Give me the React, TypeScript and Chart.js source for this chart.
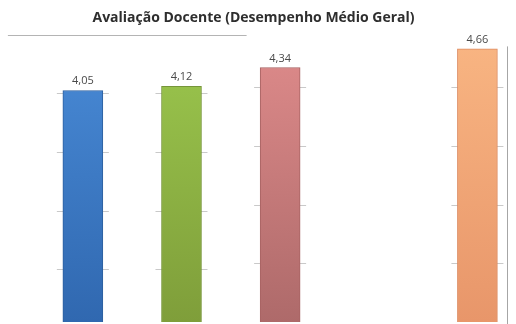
import { useEffect, useRef } from 'react';
import { Chart, registerables } from 'chart.js';

Chart.register(...registerables);

// Column slots on the x axis (slot 4 is left empty) and the average score of each column
const slots = [1, 2, 3, 5];
const averages = [4.05, 4.12, 4.34, 4.66];
// Value axis each column is read against (left pair / right pair)
const panels = [0, 0, 1, 1];
// Score levels of the horizontal guide lines
const gridValues = [1, 2, 3, 4, 5];
const chartTitle = 'Avaliação Docente (Desempenho Médio Geral)';

const topColors = ['#4a8cd8', '#9cc84e', '#e08c8c', '#f9b683'];
const bottomColors = ['#3068b0', '#7f9e3a', '#ae6a6a', '#e8966a'];
const edgeColors = ['#2c5f9e', '#76953a', '#a76262', '#dd8c62'];

const formatScore = (v: number) => v.toFixed(2).replace('.', ',');

const App = () => {
  const canvasRef = useRef<HTMLCanvasElement | null>(null);

  useEffect(() => {
    if (!canvasRef.current) return;

    const datasets = [0, 1].map((p) => ({
      label: `painel ${p + 1}`,
      yAxisID: p === 0 ? 'yL' : 'yR',
      data: slots
        .map((s, i) => ({ x: s, y: averages[i], c: i }))
        .filter((_, i) => panels[i] === p),
      backgroundColor: (ctx: any) => {
        const raw = ctx.raw as { c: number } | undefined;
        const c = raw ? raw.c : 0;
        const area = ctx.chart.chartArea;
        if (!area) return topColors[c];
        const g = ctx.chart.ctx.createLinearGradient(0, area.top, 0, area.bottom);
        g.addColorStop(0, topColors[c]);
        g.addColorStop(1, bottomColors[c]);
        return g;
      },
      borderColor: (ctx: any) => edgeColors[(ctx.raw as { c: number } | undefined)?.c ?? 0],
      borderWidth: 1,
      borderSkipped: 'bottom' as const,
      barThickness: 40,
      grouped: false,
    }));

    // Short guide-line stubs on both sides of each column, drawn under the bars
    const guideStubs = {
      id: 'guideStubs',
      beforeDatasetsDraw(chart: any) {
        const { ctx } = chart;
        ctx.save();
        ctx.strokeStyle = '#c9c9c9';
        ctx.lineWidth = 1;
        chart.data.datasets.forEach((ds: any, di: number) => {
          const meta = chart.getDatasetMeta(di);
          const scale = chart.scales[ds.yAxisID];
          meta.data.forEach((bar: any, i: number) => {
            const value = ds.data[i].y;
            gridValues
              .filter((g) => g < value)
              .forEach((g) => {
                const y = Math.round(scale.getPixelForValue(g)) + 0.5;
                ctx.beginPath();
                ctx.moveTo(bar.x - bar.width / 2 - 6, y);
                ctx.lineTo(bar.x + bar.width / 2 + 6, y);
                ctx.stroke();
              });
          });
        });

        // Top guide line of the left pair and the right-hand axis line
        const x = chart.scales.x;
        const yTop = Math.round(chart.scales.yL.getPixelForValue(5)) + 0.5;
        ctx.strokeStyle = '#b4b4b4';
        ctx.beginPath();
        ctx.moveTo(x.getPixelForValue(0.24), yTop);
        ctx.lineTo(x.getPixelForValue(2.66), yTop);
        ctx.stroke();

        const xr = Math.round(chart.chartArea.right) + 0.5;
        ctx.strokeStyle = '#a6a6a6';
        ctx.beginPath();
        ctx.moveTo(xr, chart.scales.yR.getPixelForValue(4.7));
        ctx.lineTo(xr, chart.chartArea.bottom + 2);
        ctx.stroke();
        ctx.restore();
      },
    };

    // Score printed above each column
    const valueLabels = {
      id: 'valueLabels',
      afterDatasetsDraw(chart: any) {
        const { ctx } = chart;
        ctx.save();
        ctx.font = '11px "Open Sans", sans-serif';
        ctx.fillStyle = '#4a4a4a';
        ctx.textAlign = 'center';
        ctx.textBaseline = 'alphabetic';
        chart.data.datasets.forEach((ds: any, di: number) => {
          const meta = chart.getDatasetMeta(di);
          meta.data.forEach((bar: any, i: number) => {
            ctx.fillText(formatScore(ds.data[i].y), bar.x, bar.y - 6);
          });
        });
        ctx.restore();
      },
    };

    const chart = new Chart(canvasRef.current, {
      type: 'bar',
      data: { datasets: datasets as any },
      options: {
        animation: false,
        responsive: true,
        maintainAspectRatio: false,
        layout: { padding: { top: 0, right: 9, bottom: 2, left: 0 } },
        plugins: {
          legend: { display: false },
          tooltip: { enabled: true },
          title: {
            display: true,
            text: chartTitle,
            color: '#2e2e2e',
            font: { family: '"Open Sans", sans-serif', size: 14, weight: 'bold' },
            padding: { top: 10, bottom: 2 },
          },
        },
        scales: {
          x: { type: 'linear', min: 0.16, max: 5.3, offset: false, display: false },
          yL: { type: 'linear', min: 0.102, max: 5.102, display: false },
          yR: { type: 'linear', min: 0, max: 5, display: false },
        },
      },
      plugins: [guideStubs, valueLabels],
    });

    return () => chart.destroy();
  }, []);

  return (
    <div
      style={{
        position: 'fixed',
        left: 0,
        top: 0,
        width: 516,
        height: 324,
        background: '#ffffff',
      }}
    >
      <canvas ref={canvasRef} />
    </div>
  );
};

export default App;
